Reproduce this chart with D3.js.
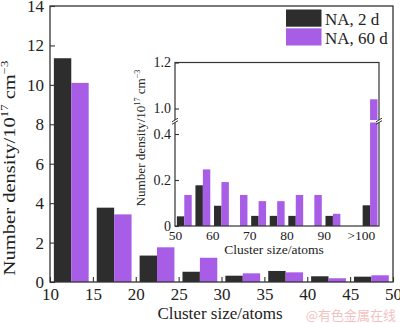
<!DOCTYPE html>
<html>
<head>
<meta charset="utf-8">
<script src="https://cdn.jsdelivr.net/npm/d3@7"></script>
<style>
body { margin: 0; background: #fff; }
svg { display: block; }
</style>
</head>
<body>
<script>
// 主图数据：团簇尺寸区间起点 / 两组数密度
var mainBins = [10, 15, 20, 25, 30, 35, 40, 45];
var main2d = [11.35, 3.77, 1.34, 0.52, 0.32, 0.56, 0.29, 0.27];
var main60d = [10.1, 3.43, 1.76, 1.23, 0.44, 0.49, 0.19, 0.34];
var mainXTicks = [10, 15, 20, 25, 30, 35, 40, 45, 50];
var mainYTicks = [0, 2, 4, 6, 8, 10, 12, 14];
// 插图数据
var insetBins = [50, 55, 60, 65, 70, 75, 80, 85, 90, 95, 100];
var inset2d = [0.042, 0.177, 0.088, 0, 0.044, 0.044, 0.044, 0, 0.044, 0, 0.09];
var inset60d = [0.135, 0.246, 0.191, 0.135, 0.108, 0.108, 0.135, 0.135, 0.053, 0, 1.04];
var insetXTicks = [50, 60, 70, 80, 90, 100];
var insetYTicksLow = [0, 0.2, 0.4];
var insetYTicksHigh = [1.0, 1.2];
var seriesNames = ['NA, 2 d', 'NA, 60 d'];
var colors = ['#2d2d2d', '#a85de6'];

var font = '"Liberation Serif", "Times New Roman", serif';
var lineColor = '#333';
var textColor = '#222';
var svgWidth = 400;
var svgHeight = 323;
var svg = d3.select('body')
  .append('svg')
  .attr('width', svgWidth)
  .attr('height', svgHeight);

// ---------- 主图 ----------
var main = { left: 50, right: 393, top: 6, bottom: 282 };
var x = d3.scaleLinear().domain([10, 50]).range([main.left, main.right]);
var y = d3.scaleLinear().domain([0, 14]).range([main.bottom, main.top]);
var barW = x(10 + 2.03) - x(10);

var mainData = mainBins.map((b, i) => [main2d[i], main60d[i]].map((v, k) => ({ bin: b, v: v, k: k })));
svg.append('g')
  .selectAll('g')
  .data(mainData)
  .join('g')
  .selectAll('rect')
  .data(d => d)
  .join('rect')
  .attr('x', d => x(d.bin + 0.45) + d.k * barW)
  .attr('y', d => y(d.v))
  .attr('width', barW)
  .attr('height', d => y(0) - y(d.v))
  .attr('fill', d => colors[d.k]);

function styleAxis(g, size) {
  g.attr('font-family', font).attr('font-size', size);
  g.select('.domain').remove();
  g.selectAll('.tick line').attr('stroke', lineColor).attr('stroke-width', 1.1);
  g.selectAll('.tick text').attr('fill', textColor);
}

svg.append('g')
  .attr('transform', `translate(${main.left},0)`)
  .call(d3.axisLeft(y).tickValues(mainYTicks).tickSizeInner(-5).tickSizeOuter(0).tickPadding(6))
  .call(g => styleAxis(g, 17));

svg.append('g')
  .attr('transform', `translate(0,${main.bottom})`)
  .call(d3.axisBottom(x).tickValues(mainXTicks).tickSizeInner(-5).tickSizeOuter(0).tickPadding(6))
  .call(g => styleAxis(g, 17));

svg.append('rect')
  .attr('x', main.left).attr('y', main.top)
  .attr('width', main.right - main.left).attr('height', main.bottom - main.top)
  .attr('fill', 'none').attr('stroke', lineColor).attr('stroke-width', 1.3);

// 图例
var legend = svg.append('g').selectAll('g')
  .data(seriesNames)
  .join('g')
  .attr('transform', (d, i) => `translate(286,${9.5 + i * 18.8})`);
legend.append('rect').attr('width', 35.5).attr('height', 17.2).attr('fill', (d, i) => colors[i]);
legend.append('text')
  .attr('x', 39).attr('y', 15.5)
  .attr('font-family', font).attr('font-size', 17).attr('fill', textColor)
  .text(d => d);

// 带上标的纵轴标题
function yTitle(cx, cy, size, target) {
  var g = svg.append('g');
  var t = g.append('text')
    .attr('text-anchor', 'middle')
    .attr('font-family', font).attr('font-size', size).attr('fill', textColor);
  t.append('tspan').text('Number density/10');
  t.append('tspan').attr('font-size', size * 0.62).attr('dy', -size * 0.42).text('17');
  t.append('tspan').attr('dy', size * 0.42).text(' cm');
  t.append('tspan').attr('font-size', size * 0.62).attr('dy', -size * 0.42).text('\u22123');
  var w = t.node().getBBox().width;
  g.attr('transform', `translate(${cx},${cy}) rotate(-90) scale(${target / w},1)`);
}
yTitle(15, 168, 17, 215);

svg.append('text')
  .attr('x', 220).attr('y', 319)
  .attr('text-anchor', 'middle')
  .attr('font-family', font).attr('font-size', 17).attr('fill', textColor)
  .text('Cluster size/atoms');

// ---------- 插图 ----------
var inset = { left: 175, right: 379, top: 62.5, bottom: 226 };
var breakLow = 122.5;
var breakHigh = 120;
var xi = d3.scaleLinear().domain([50, 104.9]).range([inset.left, inset.right]);
var yLow = d3.scaleLinear().domain([0, 0.45]).range([inset.bottom, breakLow]);
var yHigh = d3.scaleLinear().domain([0.95, 1.2]).range([breakHigh, inset.top]);
var barWi = xi(52) - xi(50);

svg.append('rect')
  .attr('x', inset.left).attr('y', inset.top)
  .attr('width', inset.right - inset.left).attr('height', inset.bottom - inset.top)
  .attr('fill', '#fff');

// 断轴：超过 0.45 的值分成两段画
var segs = [];
insetBins.forEach((b, i) => {
  [inset2d[i], inset60d[i]].forEach((v, k) => {
    if (v <= 0) return;
    var xPos = xi(b + 0.5) + k * barWi;
    if (v <= 0.45) {
      segs.push({ x: xPos, y0: yLow(v), y1: yLow(0), k: k });
    } else {
      segs.push({ x: xPos, y0: breakLow, y1: yLow(0), k: k });
      segs.push({ x: xPos, y0: yHigh(v), y1: breakHigh, k: k });
    }
  });
});
svg.append('g')
  .selectAll('rect')
  .data(segs)
  .join('rect')
  .attr('x', d => d.x)
  .attr('y', d => d.y0)
  .attr('width', barWi)
  .attr('height', d => d.y1 - d.y0)
  .attr('fill', d => colors[d.k]);

var fmt = d => d === 0 ? '0' : d.toFixed(1);
svg.append('g')
  .attr('transform', `translate(${inset.left},0)`)
  .call(d3.axisLeft(yLow).tickValues(insetYTicksLow).tickFormat(fmt).tickSizeInner(-4).tickSizeOuter(0).tickPadding(4))
  .call(g => styleAxis(g, 14));
svg.append('g')
  .attr('transform', `translate(${inset.left},0)`)
  .call(d3.axisLeft(yHigh).tickValues(insetYTicksHigh).tickFormat(fmt).tickSizeInner(-4).tickSizeOuter(0).tickPadding(4))
  .call(g => styleAxis(g, 14));
svg.append('g')
  .attr('transform', `translate(0,${inset.bottom})`)
  .call(d3.axisBottom(xi).tickValues(insetXTicks).tickFormat(d => d === 100 ? '>100' : d).tickSize(0).tickPadding(4))
  .call(g => styleAxis(g, 13.5));

svg.append('rect')
  .attr('x', inset.left).attr('y', inset.top)
  .attr('width', inset.right - inset.left).attr('height', inset.bottom - inset.top)
  .attr('fill', 'none').attr('stroke', lineColor).attr('stroke-width', 1.2);

// 断轴标记
[inset.left, inset.right].forEach(ax => {
  svg.append('rect')
    .attr('x', ax - 2).attr('y', breakHigh)
    .attr('width', 4).attr('height', breakLow - breakHigh)
    .attr('fill', '#fff');
  [breakHigh, breakLow].forEach(by => {
    svg.append('line')
      .attr('x1', ax - 3).attr('y1', by + 1.8)
      .attr('x2', ax + 3).attr('y2', by - 1.8)
      .attr('stroke', lineColor).attr('stroke-width', 1);
  });
});

yTitle(145, 138, 13, 137);

svg.append('text')
  .attr('x', 274).attr('y', 254)
  .attr('text-anchor', 'middle')
  .attr('font-family', font).attr('font-size', 13.5).attr('fill', textColor)
  .text('Cluster size/atoms');

// 水印
svg.append('text')
  .attr('x', 396).attr('y', 320)
  .attr('text-anchor', 'end')
  .attr('font-family', '"Noto Sans CJK SC", sans-serif').attr('font-size', 13)
  .attr('fill', '#f2c2c2')
  .text('@有色金属在线');
</script>
</body>
</html>
